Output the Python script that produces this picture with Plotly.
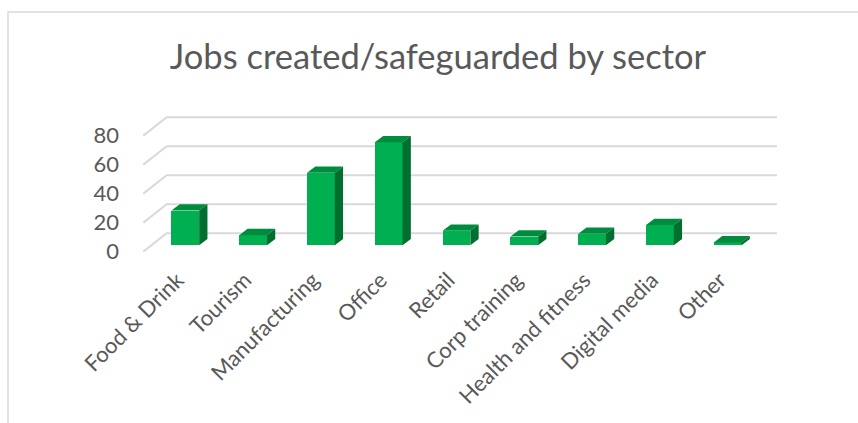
import numpy as np
import plotly.graph_objects as go

# --- data -------------------------------------------------------------
sectors = ["Food & Drink", "Tourism", "Manufacturing", "Office", "Retail",
           "Corp training", "Health and fitness", "Digital media", "Other"]
jobs = [24, 7, 50, 71, 10, 6, 8, 14, 2]
y_ticks = [0, 20, 40, 60, 80]
y_tick_text = ["0", "20", "40", "60", "80"]
title_text = "Jobs created/safeguarded by sector"

# --- pseudo-3D geometry (in axis units) ---------------------------------
WALL_DX, WALL_DY = -0.345, -12.62     # front edge of floor/side wall vs back wall
FACE_DX, FACE_DY = -0.2257, -8.276    # bar front faces vs back wall
DEPTH_DX, DEPTH_DY = 0.1224, 4.345    # bar depth (towards the back)
BAR_W = 0.4086

GREEN = "#00b050"
GREEN_TOP = "#008c3e"
GREEN_SIDE = "#006f2f"
GRID = "#d9d9d9"
TEXT = "#595959"
FONT = "Lato"

n = len(sectors)
idx = np.arange(n)
vals = np.array(jobs, dtype=float)

fig = go.Figure()

# front faces of the columns
fig.add_trace(go.Bar(x=idx + FACE_DX, y=vals, base=FACE_DY, width=BAR_W,
                     marker=dict(color=GREEN, line=dict(width=0)),
                     showlegend=False, name="Jobs"))

# top and side faces
tx, ty, sx, sy = [], [], [], []
for i, v in zip(idx, vals):
    xl = i + FACE_DX - BAR_W / 2
    xr = i + FACE_DX + BAR_W / 2
    top = FACE_DY + v
    base = FACE_DY
    tx += [xl, xr, xr + DEPTH_DX, xl + DEPTH_DX, xl, None]
    ty += [top, top, top + DEPTH_DY, top + DEPTH_DY, top, None]
    sx += [xr, xr, xr + DEPTH_DX, xr + DEPTH_DX, xr, None]
    sy += [base, top, top + DEPTH_DY, base + DEPTH_DY, base, None]
fig.add_trace(go.Scatter(x=tx, y=ty, mode="lines", fill="toself",
                         fillcolor=GREEN_TOP, line=dict(width=0, color=GREEN_TOP),
                         hoverinfo="skip", showlegend=False))
fig.add_trace(go.Scatter(x=sx, y=sy, mode="lines", fill="toself",
                         fillcolor=GREEN_SIDE, line=dict(width=0, color=GREEN_SIDE),
                         hoverinfo="skip", showlegend=False))

# back-wall gridlines with their diagonal on the side wall, kept under the bars
grid_shapes = []
for t in y_ticks:
    grid_shapes.append(dict(
        type="path", xref="x", yref="y", layer="below",
        path=f"M {-0.5 + WALL_DX},{t + WALL_DY} L -0.5,{t} L {n - 0.5},{t}",
        line=dict(color=GRID, width=2)))

L, R, T, B = 140, 780, 100, 258
W, H = 858, 423
border = dict(type="rect", xref="paper", yref="paper",
              x0=(8 - L) / (R - L), x1=(W + 20 - L) / (R - L),
              y0=(B - (H + 20)) / (B - T), y1=(B - 12) / (B - T),
              line=dict(color=GRID, width=1.5), fillcolor="rgba(0,0,0,0)",
              layer="below")

fig.update_layout(
    width=W, height=H,
    margin=dict(l=L, r=W - R, t=T, b=H - B, pad=0),
    paper_bgcolor="white", plot_bgcolor="white",
    bargap=0,
    title=dict(text=title_text, x=438 / W, xanchor="center", xref="container",
               y=1 - 57 / H, yanchor="middle",
               font=dict(family=FONT, size=34.5, color=TEXT)),
    xaxis=dict(range=[-0.8938, 8.5457], showgrid=False, zeroline=False,
               showline=False, tickmode="array",
               tickvals=list(idx + FACE_DX), ticktext=sectors,
               tickangle=-45, ticks="", ticklabelstandoff=4,
               ticklabelshift=-8,
               tickfont=dict(family=FONT, size=22, color=TEXT)),
    yaxis=dict(range=[-17.03, 91.93], showgrid=False, zeroline=False,
               showline=False, tickmode="array",
               tickvals=[t + WALL_DY for t in y_ticks], ticktext=y_tick_text,
               ticks="", ticklabelstandoff=20,
               tickfont=dict(family=FONT, size=22, color=TEXT)),
    shapes=grid_shapes + [border],
)

fig.write_html("out.html")
